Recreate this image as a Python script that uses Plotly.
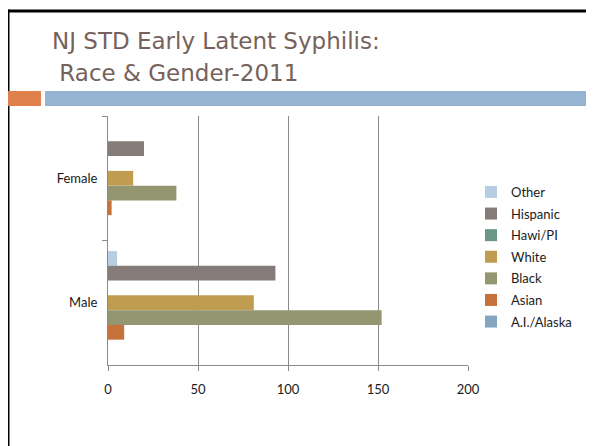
import plotly.graph_objects as go

genders = ["Female", "Male"]
races = ["Other", "Hispanic", "Hawi/PI", "White", "Black", "Asian", "A.I./Alaska"]
values = {
    "Other": [0, 5],
    "Hispanic": [20, 93],
    "Hawi/PI": [0, 0],
    "White": [14, 81],
    "Black": [38, 152],
    "Asian": [2, 9],
    "A.I./Alaska": [0, 0],
}
colors = {
    "Other": "#b7cde1",
    "Hispanic": "#857b79",
    "Hawi/PI": "#6a9687",
    "White": "#c09c50",
    "Black": "#939671",
    "Asian": "#c6703c",
    "A.I./Alaska": "#84a4c0",
}
x_ticks = [0, 50, 100, 150, 200]
title_line1 = "NJ STD Early Latent Syphilis:"
title_line2 = " Race & Gender-2011"

# page body has an 8px margin, so figure coords = window coords - 8
OFF = 8
WIN_W, WIN_H = 594, 446
W, H = WIN_W - OFF, WIN_H - OFF
L, R, T, B = 108 - OFF, 468 - OFF, 116 - OFF, 365 - OFF


def px_x(p):
    return (p - OFF - L) / (R - L)


def px_y(p):
    return (B - (p - OFF)) / (B - T)


FONT = "Lato"
TFONT = "DejaVu Sans"

fig = go.Figure()
for r in races:
    fig.add_trace(go.Bar(
        y=genders, x=values[r], name=r, orientation="h",
        marker=dict(color=colors[r], line=dict(width=0)),
        legendgroup=r,
    ))

shapes = [
    dict(type="line", xref="paper", yref="paper", x0=px_x(6), x1=px_x(600), y0=px_y(11), y1=px_y(11),
         line=dict(color="#000000", width=3)),
    dict(type="line", xref="paper", yref="paper", x0=px_x(8.5), x1=px_x(8.5), y0=px_y(9.5), y1=px_y(460),
         line=dict(color="#000000", width=2)),
    dict(type="rect", xref="paper", yref="paper", x0=px_x(6), x1=px_x(41), y0=px_y(106), y1=px_y(91),
         fillcolor="#e0804a", line=dict(width=0)),
    dict(type="rect", xref="paper", yref="paper", x0=px_x(45), x1=px_x(600), y0=px_y(106), y1=px_y(91),
         fillcolor="#94b4d1", line=dict(width=0)),
]

annotations = [
    dict(text=title_line1, xref="paper", yref="paper", x=px_x(50), y=px_y(41), xanchor="left", yanchor="middle",
         showarrow=False, font=dict(family=TFONT, size=23, color="#76625b")),
    dict(text=title_line2.replace(" ", "&nbsp;", 1), xref="paper", yref="paper", x=px_x(50), y=px_y(73),
         xanchor="left", yanchor="middle",
         showarrow=False, font=dict(family=TFONT, size=23, color="#76625b")),
]

fig.update_layout(
    width=W, height=H,
    margin=dict(l=L, r=W - R, t=T, b=H - B, pad=0, autoexpand=False),
    paper_bgcolor="white", plot_bgcolor="white",
    barmode="group", bargap=0.17, bargroupgap=0,
    font=dict(family=FONT, size=13, color="#1a1a1a"),
    showlegend=True,
    legend=dict(xref="paper", yref="paper", x=px_x(471), y=px_y(177), xanchor="left", yanchor="top",
                font=dict(size=13, color="#1a1a1a"), tracegroupgap=1.7, itemwidth=30,
                bgcolor="rgba(0,0,0,0)"),
    shapes=shapes,
    annotations=annotations,
    xaxis=dict(range=[0, 200], tickvals=x_ticks, ticktext=[str(v) for v in x_ticks],
               showgrid=True, gridcolor="#8a8a8a", gridwidth=1, zeroline=False,
               showline=True, linecolor="#8a8a8a", linewidth=1, ticks="outside", ticklen=5,
               tickcolor="#8a8a8a", tickfont=dict(size=13, color="#1a1a1a"), ticklabelstandoff=7),
    yaxis=dict(type="category", categoryorder="array", categoryarray=genders, autorange="reversed",
               showgrid=False, zeroline=False, showline=True, linecolor="#8a8a8a", linewidth=1,
               ticks="outside", tickson="boundaries", ticklen=5, tickcolor="#8a8a8a",
               tickfont=dict(size=13, color="#1a1a1a"), ticklabelstandoff=7),
)

fig.write_html("out.html", config={"displayModeBar": False})
